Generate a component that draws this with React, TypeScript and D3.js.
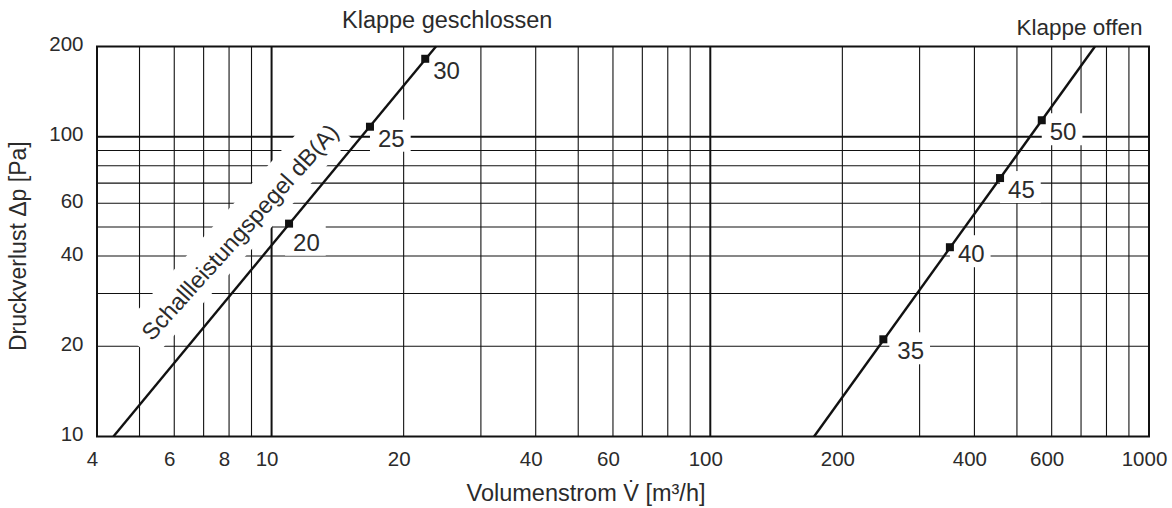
import React from "react";
import { scaleLog, line } from "d3";

const width = 1172;
const height = 508;
const margin = { top: 46.5, right: 23, bottom: 71.5, left: 97 };

// grid + ticks
const xGrid = [5, 6, 7, 8, 9, 10, 20, 30, 40, 50, 60, 70, 80, 90, 100, 200, 300, 400, 500, 600, 700, 800, 900];
const xMajor = [10, 100];
const xTickLabels = [4, 6, 8, 10, 20, 40, 60, 100, 200, 400, 600, 1000];
const yGrid = [20, 30, 40, 50, 60, 70, 80, 90, 100];
const yMajor = [100];
const yTickLabels = [10, 20, 40, 60, 100, 200];

// Klappe geschlossen
const closedLine = [
  { v: 4.36, p: 10 },
  { v: 23.7, p: 200 },
];
const closedPoints = [
  { v: 10.96, p: 51.3, db: 20 },
  { v: 16.76, p: 108, db: 25 },
  { v: 22.4, p: 182, db: 30 },
];

// Klappe offen
const openLine = [
  { v: 172.4, p: 10 },
  { v: 753, p: 200 },
];
const openPoints = [
  { v: 248, p: 21.1, db: 35 },
  { v: 351.7, p: 42.8, db: 40 },
  { v: 457.6, p: 72.8, db: 45 },
  { v: 569.6, p: 113.5, db: 50 },
];

const font = "'Liberation Sans', Arial, Helvetica, sans-serif";
const textColor = "#2b2b2b";
const lineColor = "#111";

// label placement relative to marker
const labelDx = 8;
const labelDy = 20;
const labelNudge: Record<number, [number, number]> = { 20: [-4, 7], 35: [6, 0], 40: [0, -5] };

// rotated caption along the left curve
const captionPos = { x: 152, y: 342, angle: -48 };

const App = () => {
  const innerRight = width - margin.right;
  const innerBottom = height - margin.bottom;

  const x = scaleLog().domain([4, 1000]).range([margin.left, innerRight]);
  const y = scaleLog().domain([10, 200]).range([innerBottom, margin.top]);

  const path = line<{ v: number; p: number }>()
    .x((d) => x(d.v))
    .y((d) => y(d.p));

  const labelFont = 24;
  const labelW = 2 * 0.556 * labelFont;

  const points = [...closedPoints, ...openPoints];
  const captionTransform = `translate(${captionPos.x},${captionPos.y}) rotate(${captionPos.angle})`;

  return (
    <div style={{ position: "fixed", left: 0, top: 0 }}>
      <svg width={width} height={height} style={{ display: "block" }}>
        <rect width="100%" height="100%" fill="white" />

        {/* vertical grid */}
        {xGrid.map((t) => (
          <line
            key={"xg" + t}
            x1={x(t)}
            x2={x(t)}
            y1={margin.top}
            y2={innerBottom}
            stroke={lineColor}
            strokeWidth={xMajor.includes(t) ? 2 : 1.1}
          />
        ))}

        {/* horizontal grid */}
        {yGrid.map((t) => (
          <line
            key={"yg" + t}
            x1={margin.left}
            x2={innerRight}
            y1={y(t)}
            y2={y(t)}
            stroke={lineColor}
            strokeWidth={yMajor.includes(t) ? 2 : 1.1}
          />
        ))}

        {/* white band behind rotated caption */}
        <g transform={captionTransform}>
          <rect x={-12} y={-32} width={297} height={44} fill="white" />
        </g>

        {/* white boxes behind dB labels */}
        {points.map((d) => {
          const n = labelNudge[d.db] || [0, 0];
          const tx = x(d.v) + labelDx + n[0];
          const ty = y(d.p) + labelDy + n[1];
          return (
            <rect
              key={"lb" + d.db}
              x={tx - 8}
              y={ty - 27}
              width={labelW + 14}
              height={32}
              fill="white"
            />
          );
        })}

        {/* frame */}
        <rect
          x={margin.left}
          y={margin.top}
          width={innerRight - margin.left}
          height={innerBottom - margin.top}
          fill="none"
          stroke={lineColor}
          strokeWidth={2}
        />

        {/* curves */}
        <path d={path(closedLine) || ""} fill="none" stroke={lineColor} strokeWidth={2.4} />
        <path d={path(openLine) || ""} fill="none" stroke={lineColor} strokeWidth={2.4} />

        {points.map((d) => (
          <rect key={"m" + d.db} x={x(d.v) - 4} y={y(d.p) - 4} width={8} height={8} fill={lineColor} />
        ))}

        <g fontFamily={font} fill={textColor}>
          {points.map((d) => {
            const n = labelNudge[d.db] || [0, 0];
            return (
              <text key={"lt" + d.db} x={x(d.v) + labelDx + n[0]} y={y(d.p) + labelDy + n[1]} fontSize={labelFont}>
                {d.db}
              </text>
            );
          })}

          <text transform={captionTransform} fontSize={23.5}>
            Schallleistungspegel dB(A)
          </text>

          {/* y tick labels */}
          {yTickLabels.map((t) => (
            <text key={"yt" + t} x={83.5} y={y(t) + 4.5} fontSize={20.5} textAnchor="end">
              {t}
            </text>
          ))}

          {/* x tick labels */}
          {xTickLabels.map((t) => (
            <text key={"xt" + t} x={x(t) - 4.5} y={465.5} fontSize={20.5} textAnchor="middle">
              {t}
            </text>
          ))}

          <text x={342} y={28} fontSize={23.5}>
            Klappe geschlossen
          </text>
          <text x={1142.5} y={35} fontSize={22.5} textAnchor="end">
            Klappe offen
          </text>

          <text x={586} y={501} fontSize={23.5} textAnchor="middle">
            Volumenstrom V̇ [m³/h]
          </text>
          <text transform={`translate(26,351) rotate(-90)`} fontSize={23}>
            Druckverlust Δp [Pa]
          </text>
        </g>
      </svg>
    </div>
  );
};

export default App;
